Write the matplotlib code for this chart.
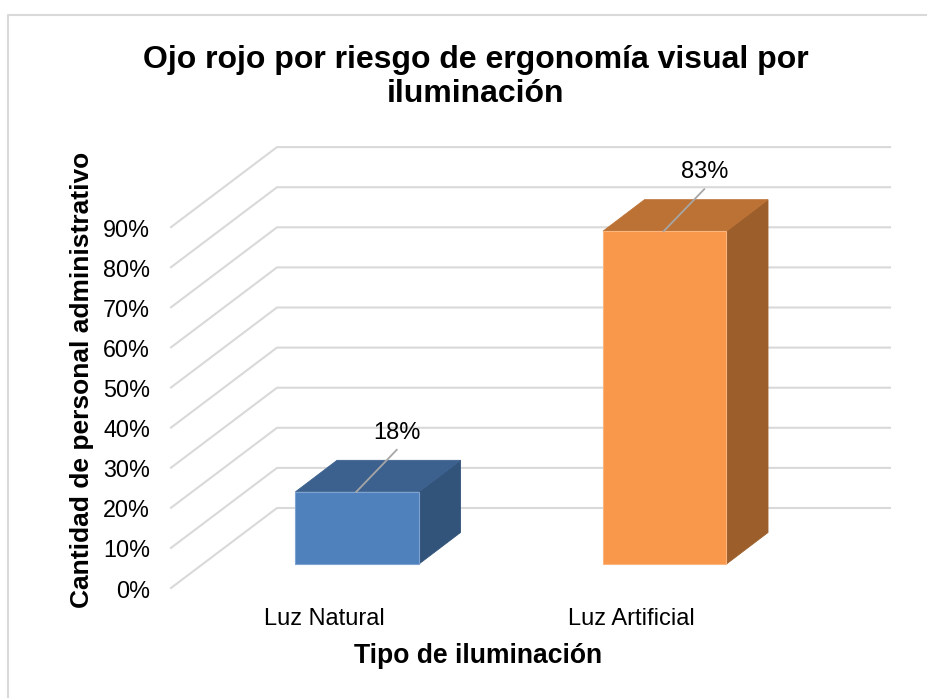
import matplotlib
matplotlib.use("Agg")
import matplotlib.pyplot as plt
from matplotlib.lines import Line2D
from matplotlib.patches import Polygon

categorias = ["Luz Natural", "Luz Artificial"]
valores = [18, 83]
etiquetas = ["18%", "83%"]
ticks = [0, 10, 20, 30, 40, 50, 60, 70, 80, 90]

titulo = "Ojo rojo por riesgo de ergonomía visual por\niluminación"
eje_x = "Tipo de iluminación"
eje_y = "Cantidad de personal administrativo"

colores_frente = ["#4F81BD", "#F9974A"]
colores_arriba = ["#3C618E", "#BD7235"]
colores_lado = ["#32537A", "#9C5F2B"]
bordes = ["#7FA3D0", "#FBB680"]

plt.rcParams["font.family"] = ["Liberation Sans", "DejaVu Sans"]

W, H = 928, 698
Y0 = 588  # fila del 0% en la pared frontal
PX = 4.01  # pixeles por punto porcentual

fig = plt.figure(figsize=(W / 100, H / 100), dpi=100)
ax = fig.add_axes([0, 0, 1, 1])
ax.set_xlim(0, W)
ax.set_ylim((Y0 - H) / PX, Y0 / PX)
ax.axis("off")

# marco del grafico
gris = "#D9D9D9"
fig.add_artist(Line2D([7.5 / W, 7.5 / W, 1], [0, 1 - 14.5 / H, 1 - 14.5 / H],
                      transform=fig.transFigure, color=gris, lw=1.5))

# rejilla: diagonal del piso y linea horizontal en el fondo
x_frente, x_fondo, x_fin = 171, 277, 890
alto_fondo = 80 / PX
for t in ticks:
    ax.plot([x_frente, x_fondo, x_fin], [t, t + alto_fondo, t + alto_fondo],
            color=gris, lw=1.5, solid_joinstyle="miter", zorder=1)
    ax.text(150, t - 3 / PX, f"{t}%", ha="right", va="center", fontsize=16.8, color="black")

# barras en perspectiva
izq = [295.5, 603]
ancho = 123.5
dx, dy = 41.5, 31.5 / PX
base = (Y0 - 564) / PX
for i, v in enumerate(valores):
    x0 = izq[i]
    x1 = x0 + ancho
    ax.add_patch(Polygon([(x1, base), (x1 + dx, base + dy), (x1 + dx, v + base + dy), (x1, v + base)],
                         fc=colores_lado[i], ec=colores_lado[i], lw=0.6, zorder=2))
    ax.add_patch(Polygon([(x0, v + base), (x0 + dx, v + base + dy), (x1 + dx, v + base + dy), (x1, v + base)],
                         fc=colores_arriba[i], ec=colores_arriba[i], lw=0.6, zorder=2))
    ax.add_patch(Polygon([(x0, base), (x1, base), (x1, v + base), (x0, v + base)],
                         fc=colores_frente[i], ec=bordes[i], lw=0.8, zorder=3))
    # linea guia y etiqueta del valor
    xm = x0 + ancho / 2 - 1
    ax.plot([xm, xm + 40.5], [v + base, v + base + 42 / PX], color="#A6A6A6", lw=1.3, zorder=4)
    ax.text(xm + 40.5, v + base + 59 / PX, etiquetas[i], ha="center", va="center",
            fontsize=17, color="black", zorder=5)
    ax.text(x0 + 29 if i == 0 else x0 + 28, (Y0 - 619) / PX, categorias[i], ha="center", va="center",
            fontsize=17, color="black")

ax.text(476, (Y0 - 77) / PX, titulo, ha="center", va="center", fontsize=23,
        fontweight="bold", color="black", linespacing=1.17)
ax.text(478, (Y0 - 656) / PX, eje_x, ha="center", va="center", fontsize=19.1,
        fontweight="bold", color="black")
ax.text(82, (Y0 - 380) / PX, eje_y, ha="center", va="center", rotation=90, fontsize=19,
        fontweight="bold", color="black")

fig.savefig("out.png", dpi=100, facecolor="white")
